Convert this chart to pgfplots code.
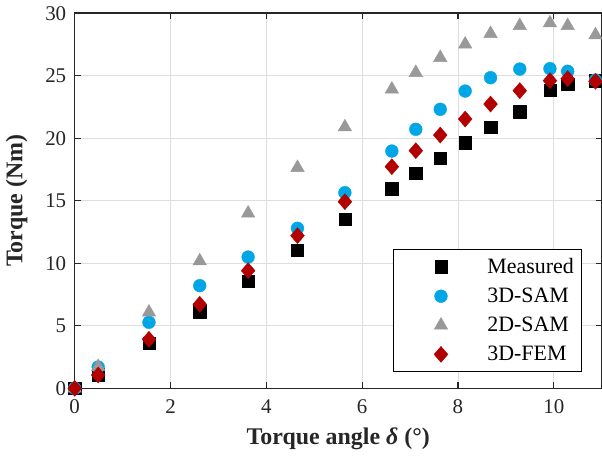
\documentclass[border=0pt]{standalone}
\usepackage{fontspec}
\setmainfont{Liberation Serif}
\usepackage{pgfplots}
\pgfplotsset{compat=1.18}
\definecolor{samblue}{RGB}{0,166,230}
\definecolor{samgray}{RGB}{153,153,153}
\definecolor{femred}{RGB}{178,0,0}
\definecolor{axcol}{RGB}{38,38,38}
\pgfplotsset{mymark/.style={only marks, legend image code/.code={\path (-41bp,0bp) (44bp,0bp); \draw[##1] plot coordinates {(0bp,0bp)};}}}
\begin{document}
\begin{tikzpicture}
\begin{axis}[
 scale only axis, width=527bp, height=375bp,
 xmin=0, xmax=11, ymin=0, ymax=30,
 xtick={0,2,4,6,8,10}, ytick={0,5,10,15,20,25,30},
 grid=major, major grid style={draw=black!13, line width=0.8bp},
 axis line style={draw=axcol, line width=1.6bp},
 tick style={draw=axcol, line width=1.2bp},
 major tick length=6bp,
 tick align=inside,
 ticklabel style={font=\fontsize{21}{24}\selectfont, text=axcol},
 xticklabel style={yshift=-8bp},
 yticklabel style={xshift=-5bp},
 /pgf/number format/assume math mode=true,
 xlabel={\textbf{Torque angle \textit{δ} (°)}},
 ylabel={\textbf{Torque (Nm)}},
 label style={font=\fontsize{24}{28}\selectfont, text=axcol},
 xlabel style={at={(axis description cs:0.5,-0.1333)}, anchor=center},
 ylabel style={at={(axis description cs:-0.11,0.5)}, anchor=center},
 legend style={at={(0.963,0.044)}, anchor=south east, draw=black, line width=0.8bp, fill=white, font=\fontsize{22}{26}\selectfont, text=black, inner xsep=6bp, inner ysep=7bp, row sep=9.1bp},
 legend cell align=left,
]
\addplot[mymark, mark=square*, mark size=6.2bp, black, mark options={fill=black, draw=black, line width=0.4bp}] coordinates {
(0,0) (0.49,1.1) (1.55,3.6) (2.61,6.13) (3.62,8.58) (4.65,11.06) (5.64,13.52) (6.62,15.97) (7.12,17.2) (7.63,18.42) (8.15,19.65) (8.68,20.9) (9.29,22.13) (9.92,23.86) (10.29,24.32) (10.87,24.6)};
\addlegendentry{Measured}
\addplot[mymark, mark=*, mark size=6.4bp, samblue, mark options={fill=samblue, draw=samblue, line width=0.4bp}] coordinates {
(0,0) (0.49,1.7) (1.55,5.28) (2.61,8.21) (3.62,10.5) (4.65,12.8) (5.64,15.65) (6.62,18.98) (7.12,20.72) (7.63,22.32) (8.15,23.78) (8.68,24.85) (9.29,25.54) (9.92,25.57) (10.29,25.36) (10.87,24.66)};
\addlegendentry{3D-SAM}
\addplot[mymark, mark=triangle*, mark size=7.8bp, samgray, mark options={fill=samgray, draw=samgray, line width=0.4bp}] coordinates {
(0,0) (0.49,1.73) (1.55,6.08) (2.61,10.18) (3.62,14.0) (4.65,17.65) (5.64,20.9) (6.62,23.92) (7.12,25.25) (7.63,26.45) (8.15,27.52) (8.68,28.37) (9.29,29.0) (9.92,29.22) (10.29,29.0) (10.87,28.26)};
\addlegendentry{2D-SAM}
\addplot[mymark, mark=diamond*, mark size=8bp, femred, mark options={fill=femred, draw=femred, line width=0.4bp, xscale=1.15}] coordinates {
(0,0) (0.49,1.06) (1.55,3.92) (2.61,6.72) (3.62,9.41) (4.65,12.21) (5.64,14.93) (6.62,17.73) (7.12,19.01) (7.63,20.26) (8.15,21.54) (8.68,22.74) (9.29,23.81) (9.92,24.61) (10.29,24.77) (10.87,24.56)};
\addlegendentry{3D-FEM}
\end{axis}
\pgfresetboundingbox
\path[use as bounding box] ([xshift=-74.7bp,yshift=-67.7bp]current axis.south west) rectangle ([xshift=0.3bp,yshift=13.3bp]current axis.north east);
\end{tikzpicture}
\end{document}
